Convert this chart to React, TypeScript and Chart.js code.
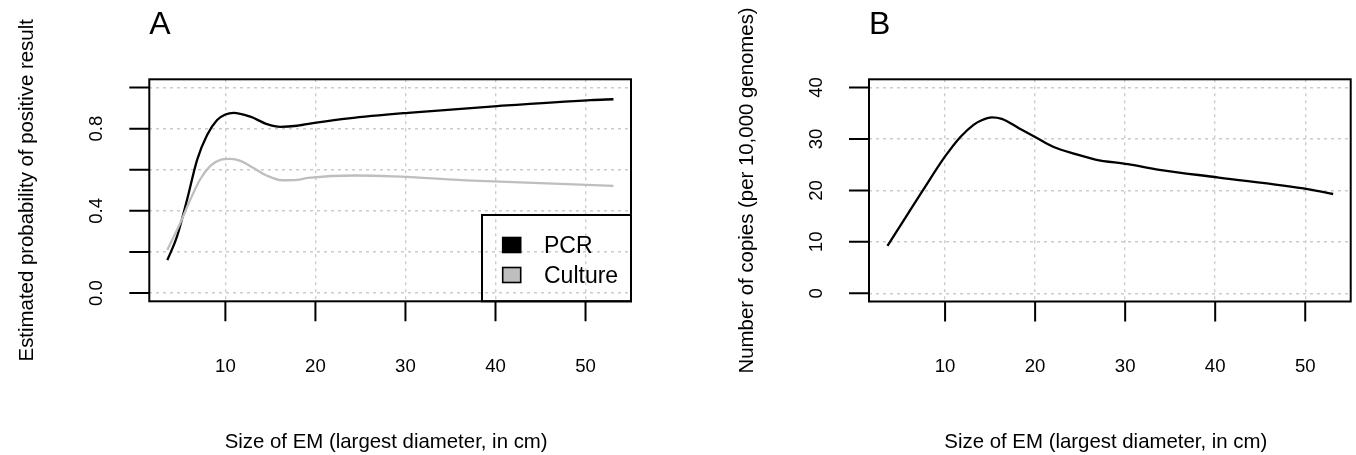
import React, { useEffect, useRef } from 'react';
import { Chart, registerables } from 'chart.js';

Chart.register(...registerables);

const FONT = '"Liberation Sans", Arial, Helvetica, sans-serif';

// ---- Data ----
const pcrX = [3.55, 4.64, 5.75, 6.86, 7.97, 9.08, 10.0, 10.92, 12.78, 14.63, 16.1, 17.96, 20.1, 23.7, 30.3, 40.2, 50.6, 53.1];
const pcrY = [0.16, 0.277, 0.455, 0.648, 0.769, 0.842, 0.869, 0.877, 0.858, 0.822, 0.809, 0.814, 0.829, 0.85, 0.877, 0.91, 0.939, 0.943];

const cultureX = [3.55, 5.0, 6.11, 7.22, 8.33, 9.44, 10.55, 11.67, 13.14, 14.63, 16.3, 17.96, 19.2, 24.4, 28.6, 37.5, 53.1];
const cultureY = [0.209, 0.342, 0.455, 0.555, 0.619, 0.648, 0.653, 0.643, 0.608, 0.571, 0.549, 0.551, 0.56, 0.572, 0.568, 0.547, 0.522];

const copiesX = [3.6, 5.6, 7.6, 10.0, 11.7, 13.2, 14.0, 15.2, 16.3, 18.2, 20.2, 22.0, 24.4, 26.7, 30.3, 33.8, 40.4, 50.4, 53.1];
const copiesY = [9.2, 14.7, 20.2, 26.6, 30.4, 32.8, 33.6, 34.2, 33.9, 32.1, 30.2, 28.5, 27.1, 26.0, 25.1, 24.0, 22.5, 20.2, 19.3];

const xTicks = [10, 20, 30, 40, 50];
const xTickLabels = ['10', '20', '30', '40', '50'];
const probTicks = [0, 0.2, 0.4, 0.6, 0.8, 1.0];
const probTickLabels = ['0.0', '', '0.4', '', '0.8', ''];
const copiesTicks = [0, 10, 20, 30, 40];
const copiesTickLabels = ['0', '10', '20', '30', '40'];

const seriesNames = ['PCR', 'Culture'];
const seriesColors = ['#000000', '#bebebe'];

const xTitle = 'Size of EM (largest diameter, in cm)';
const yTitleA = 'Estimated probability of positive result';
const yTitleB = 'Number of copies (per 10,000 genomes)';

const X_MIN = 1.55;
const X_MAX = 55.05;

type PanelCfg = {
  letter: string;
  yTitle: string;
  yTicks: number[];
  yTickLabels: string[];
  yMin: number;
  yMax: number;
  padding: { left: number; right: number; top: number; bottom: number };
  datasets: any[];
  legend: boolean;
};

const pts = (xs: number[], ys: number[]) => xs.map((x, i) => ({ x, y: ys[i] }));

function makePlugin(cfg: PanelCfg) {
  return {
    id: 'rstyle',
    afterDraw(chart: any) {
      const { ctx, chartArea: a } = chart;
      const xs = chart.scales.x;
      const ys = chart.scales.y;
      ctx.save();
      ctx.strokeStyle = '#000';
      ctx.fillStyle = '#000';
      ctx.lineWidth = 2;
      ctx.setLineDash([]);
      // frame
      ctx.strokeRect(a.left, a.top, a.right - a.left, a.bottom - a.top);
      // tick marks
      ctx.beginPath();
      xTicks.forEach((v) => {
        const px = xs.getPixelForValue(v);
        ctx.moveTo(px, a.bottom);
        ctx.lineTo(px, a.bottom + 20);
      });
      cfg.yTicks.forEach((v) => {
        const py = ys.getPixelForValue(v);
        ctx.moveTo(a.left, py);
        ctx.lineTo(a.left - 20, py);
      });
      ctx.stroke();
      // x tick labels
      ctx.font = `18.6px ${FONT}`;
      ctx.textAlign = 'center';
      ctx.textBaseline = 'alphabetic';
      xTicks.forEach((v, i) => {
        ctx.fillText(xTickLabels[i], xs.getPixelForValue(v), a.bottom + 70.4);
      });
      // y tick labels (rotated)
      cfg.yTicks.forEach((v, i) => {
        const lab = cfg.yTickLabels[i];
        if (!lab) return;
        ctx.save();
        ctx.translate(a.left - 47.5, ys.getPixelForValue(v));
        ctx.rotate(-Math.PI / 2);
        ctx.fillText(lab, 0, 0);
        ctx.restore();
      });
      // y title
      ctx.font = `20.4px ${FONT}`;
      ctx.save();
      ctx.translate(a.left - 116.5, (a.top + a.bottom) / 2);
      ctx.rotate(-Math.PI / 2);
      ctx.fillText(cfg.yTitle, 0, 0);
      ctx.restore();
      // x title
      ctx.fillText(xTitle, (a.left + a.right) / 2 - 4, 447.7);
      // panel letter
      ctx.font = `32px ${FONT}`;
      ctx.textAlign = 'left';
      ctx.fillText(cfg.letter, a.left, 34);
      // legend
      if (cfg.legend) {
        const lx = a.right - 149;
        const ly = a.bottom - 86.3;
        ctx.lineWidth = 2;
        ctx.strokeRect(lx, ly, a.right - lx, a.bottom - ly);
        const rows = [a.bottom - 56.3, a.bottom - 26.3];
        ctx.font = `23px ${FONT}`;
        ctx.textAlign = 'left';
        seriesNames.forEach((name, i) => {
          const cy = rows[i];
          ctx.fillStyle = seriesColors[i];
          ctx.fillRect(a.right - 128.3, cy - 7.5, 18, 15);
          ctx.lineWidth = 1.6;
          ctx.strokeStyle = '#000';
          ctx.strokeRect(a.right - 128.3, cy - 7.5, 18, 15);
          ctx.fillStyle = '#000';
          ctx.fillText(name, a.right - 87, cy + 8.4);
        });
      }
      ctx.restore();
    },
  };
}

function Panel({ cfg, left }: { cfg: PanelCfg; left: number }) {
  const ref = useRef<HTMLCanvasElement | null>(null);
  useEffect(() => {
    if (!ref.current) return;
    const gridCommon = {
      color: '#cccccc',
      lineWidth: 1.4,
      drawTicks: false,
    };
    const chart = new Chart(ref.current, {
      type: 'line',
      data: { datasets: cfg.datasets },
      options: {
        animation: false,
        responsive: false,
        maintainAspectRatio: false,
        layout: { padding: cfg.padding },
        plugins: {
          legend: { display: false },
          tooltip: { enabled: false },
          title: { display: false },
        },
        elements: { point: { radius: 0 } },
        scales: {
          x: {
            type: 'linear',
            min: X_MIN,
            max: X_MAX,
            afterBuildTicks: (s: any) => {
              s.ticks = xTicks.map((v) => ({ value: v }));
            },
            afterFit: (s: any) => {
              s.height = 0;
            },
            ticks: { display: false },
            grid: gridCommon,
            border: { display: false, dash: [3, 4] },
          },
          y: {
            type: 'linear',
            min: cfg.yMin,
            max: cfg.yMax,
            afterBuildTicks: (s: any) => {
              s.ticks = cfg.yTicks.map((v) => ({ value: v }));
            },
            afterFit: (s: any) => {
              s.width = 0;
            },
            ticks: { display: false },
            grid: gridCommon,
            border: { display: false, dash: [3, 4] },
          },
        },
      } as any,
      plugins: [makePlugin(cfg)],
    });
    return () => chart.destroy();
  }, [cfg]);
  return (
    <canvas
      ref={ref}
      width={678}
      height={455}
      style={{ position: 'absolute', left, top: 0, width: 678, height: 455 }}
    />
  );
}

const lineStyle = (color: string) => ({
  borderColor: color,
  borderWidth: 2.3,
  pointRadius: 0,
  fill: false,
  cubicInterpolationMode: 'monotone',
});

const panelA: PanelCfg = {
  letter: 'A',
  yTitle: yTitleA,
  yTicks: probTicks,
  yTickLabels: probTickLabels,
  yMin: -0.04,
  yMax: 1.04,
  padding: { left: 149.3, right: 47, top: 79.3, bottom: 153.7 },
  datasets: [
    { label: seriesNames[1], data: pts(cultureX, cultureY), ...lineStyle(seriesColors[1]) },
    { label: seriesNames[0], data: pts(pcrX, pcrY), ...lineStyle(seriesColors[0]) },
  ],
  legend: true,
};

const panelB: PanelCfg = {
  letter: 'B',
  yTitle: yTitleB,
  yTicks: copiesTicks,
  yTickLabels: copiesTickLabels,
  yMin: -1.6,
  yMax: 41.6,
  padding: { left: 191, right: 5.3, top: 79.3, bottom: 153.5 },
  datasets: [
    { label: 'Copies', data: pts(copiesX, copiesY), ...lineStyle('#000000') },
  ],
  legend: false,
};

export default function App() {
  return (
    <div
      style={{
        position: 'absolute',
        left: 0,
        top: 0,
        width: 1356,
        height: 455,
        background: '#fff',
        overflow: 'hidden',
      }}
    >
      <Panel cfg={panelA} left={0} />
      <Panel cfg={panelB} left={678} />
    </div>
  );
}
